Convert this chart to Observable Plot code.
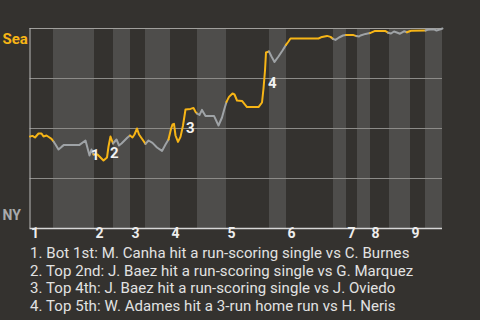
<!DOCTYPE html>
<html>
<head>
<meta charset="utf-8">
<script src="https://cdn.jsdelivr.net/npm/d3@7"></script>
<script src="https://cdn.jsdelivr.net/npm/@observablehq/plot@0.6"></script>
<style>
  html, body { margin: 0; padding: 0; background: #34322f; }
  #chart svg { display: block; }
  #notes { font: 15px Roboto, sans-serif; letter-spacing: 0.06px; color: #e2e2e2; padding-left: 30px; line-height: 17.6px; white-space: nowrap; }
</style>
</head>
<body>
<div id="chart"></div>
<div id="notes"></div>
<script>
// Game progress (play sequence position) where each half-inning begins
const halfStarts = [0, 23.5, 64.5, 83.5, 100.5, 115.5, 140.5, 167.5, 196.5, 239.5,
  256.5, 303.5, 316.5, 327.5, 340.5, 359.5, 380.5, 395.5];
const gameEnd = 412.5;
const inningLabels = ["1", "2", "3", "4", "5", "6", "7", "8", "9"];

// Seattle win probability (%) through the game
const progress = [
  0, 2.5, 5, 8.5, 11.5, 13.5, 16.5, 19.5, 21.5, 23.5,
  25.5, 28.5, 31.5, 34, 49.5, 55.5, 59.5, 61.5, 63.5,
  67.5, 70.5, 73.5, 77, 78.5, 80.5, 83,
  86.5, 89, 91.5, 94.5, 97.5, 100,
  102.5, 104.5, 107, 109, 112.5, 115.5,
  118.5, 122.5, 127, 132, 135.5, 138.5,
  141, 142.5, 144, 145.5, 148, 150.5, 153, 155.5, 160.5, 163.5, 165.5, 167,
  169.5, 172, 175.5, 184, 188.5, 192, 194.5, 196.5,
  199, 202.5, 204.5, 207, 212, 217, 228.5, 232, 233.5, 235, 236, 239,
  241.5, 244.5, 248.5, 252.5, 256,
  258.5, 260.5, 288.5, 292, 297, 300.5, 303,
  305.5, 309, 313, 316,
  323.5, 326.5,
  329, 330.5, 335.5, 340,
  344.5, 355.5, 358,
  361, 364, 367.5, 370, 374, 377,
  381, 395.5,
  397.5, 404, 406.5, 410.5, 412.5
];
const seaWinPct = [
  46, 46.3, 45.5, 47.5, 47.5, 46, 46.5, 45.5, 44.8, 43.5,
  42, 39.5, 40.8, 41.8, 41.8, 44, 36.5, 39.5, 37,
  37, 35.5, 34, 35.5, 41, 46, 42.5,
  44.5, 41.5, 42.5, 44, 45.5, 46.5,
  45.5, 47, 50, 47, 44.5, 42.3,
  44, 42.8, 40.5, 38.8, 42, 44.5,
  49.8, 52, 52.3, 46.5, 43.3, 45.8, 51.5, 59.5, 59.8, 60.3, 58.3, 57.5,
  56.8, 59.3, 56.3, 56.3, 51.5, 55.5, 60, 63.3,
  65.8, 67.5, 67, 64, 63.8, 60.7, 60.7, 63, 70, 79, 88, 88.5,
  86, 83.3, 86, 89, 91.8,
  93.5, 95, 95, 95.8, 96.3, 95.8, 94.8,
  94.3, 95.5, 96.5, 96.7,
  96.7, 96.2,
  96, 96.5, 97.3, 97.7,
  98.7, 98.7, 97.9,
  97.5, 98.5, 97.9, 97.4, 98.6, 98.1,
  98.9, 99,
  99.4, 99.6, 99, 99.6, 100
];

// Key plays: where they happened and where their number sits
const eventLabels = ["1", "2", "3", "4"];
const eventProgress = [58, 77, 153, 235];
const eventLabelPct = [36.5, 37.5, 50, 72.5];
const eventNotes = [
  "1. Bot 1st: M. Canha hit a run-scoring single vs C. Burnes",
  "2. Top 2nd: J. Baez hit a run-scoring single vs G. Marquez",
  "3. Top 4th: J. Baez hit a run-scoring single vs J. Oviedo",
  "4. Top 5th: W. Adames hit a 3-run home run vs H. Neris"
];

const SEA = "#f7b516";
const NY = "#9fa3a6";

// half-inning index for a point (a point on a boundary closes the earlier half)
function halfOf(x) {
  let h = 0;
  halfStarts.forEach((s, i) => { if (x > s) h = i; });
  return h;
}

// Split the line into half-inning runs, each sharing its first point with the previous run
const points = progress.map((x, i) => ({x, p: seaWinPct[i]}));
const runs = [];
points.forEach((pt, i) => {
  const h = halfOf(pt.x);
  if (i > 0 && h !== halfOf(points[i - 1].x)) runs.push({...points[i - 1], half: h});
  runs.push({...pt, half: h});
});

// Bottom-half bands
const bands = halfStarts
  .map((s, i) => ({x1: s, x2: i + 1 < halfStarts.length ? halfStarts[i + 1] : gameEnd, i}))
  .filter(d => d.i % 2 === 1);

const topStarts = halfStarts.filter((s, i) => i % 2 === 0);

const chart = Plot.plot({
  width: 480,
  height: 245,
  marginLeft: 29.5,
  marginRight: 38,
  marginTop: 28,
  marginBottom: 17,
  x: {domain: [0, gameEnd], axis: null},
  y: {domain: [0, 100], axis: null},
  style: {background: "#34322f", fontFamily: "Roboto, sans-serif"},
  marks: [
    Plot.rect(bands, {x1: "x1", x2: "x2", y1: 0, y2: 100, fill: "#4e4d4b"}),
    Plot.ruleY([25, 50, 75], {stroke: "#8c8b88", strokeWidth: 1}),
    Plot.ruleY([100], {stroke: "#a09f9c", strokeWidth: 1}),
    Plot.ruleY([0], {stroke: "#d6d6d6", strokeWidth: 1.5}),
    Plot.ruleX([0], {stroke: "#b8b8b8", strokeWidth: 1}),
    Plot.line(runs, {
      x: "x", y: "p", z: "half",
      stroke: d => d.half % 2 === 0 ? SEA : NY,
      strokeWidth: 2
    }),
    Plot.text(eventLabels, {
      x: (d, i) => eventProgress[i],
      y: (d, i) => eventLabelPct[i],
      text: d => d,
      textAnchor: "start", dx: 3,
      fill: "#f2f2f2", fontWeight: "bold", fontSize: 15
    }),
    Plot.text(inningLabels, {
      x: (d, i) => topStarts[i],
      text: d => d,
      frameAnchor: "bottom", dy: 9, dx: 1,
      textAnchor: "start",
      fill: "#ededed", fontWeight: "bold", fontSize: 14
    }),
    Plot.text(["Sea"], {
      frameAnchor: "top-left", dx: -27.5, dy: 5, textAnchor: "start",
      fill: SEA, fontWeight: "bold", fontSize: 15
    }),
    Plot.text(["NY"], {
      frameAnchor: "bottom-left", dx: -27.5, dy: -9, textAnchor: "start",
      fill: "#a8aaac", fontWeight: "bold", fontSize: 14
    })
  ]
});
document.getElementById("chart").append(chart);

const notes = document.getElementById("notes");
eventNotes.forEach(t => {
  const div = document.createElement("div");
  div.textContent = t;
  notes.append(div);
});
</script>
</body>
</html>
